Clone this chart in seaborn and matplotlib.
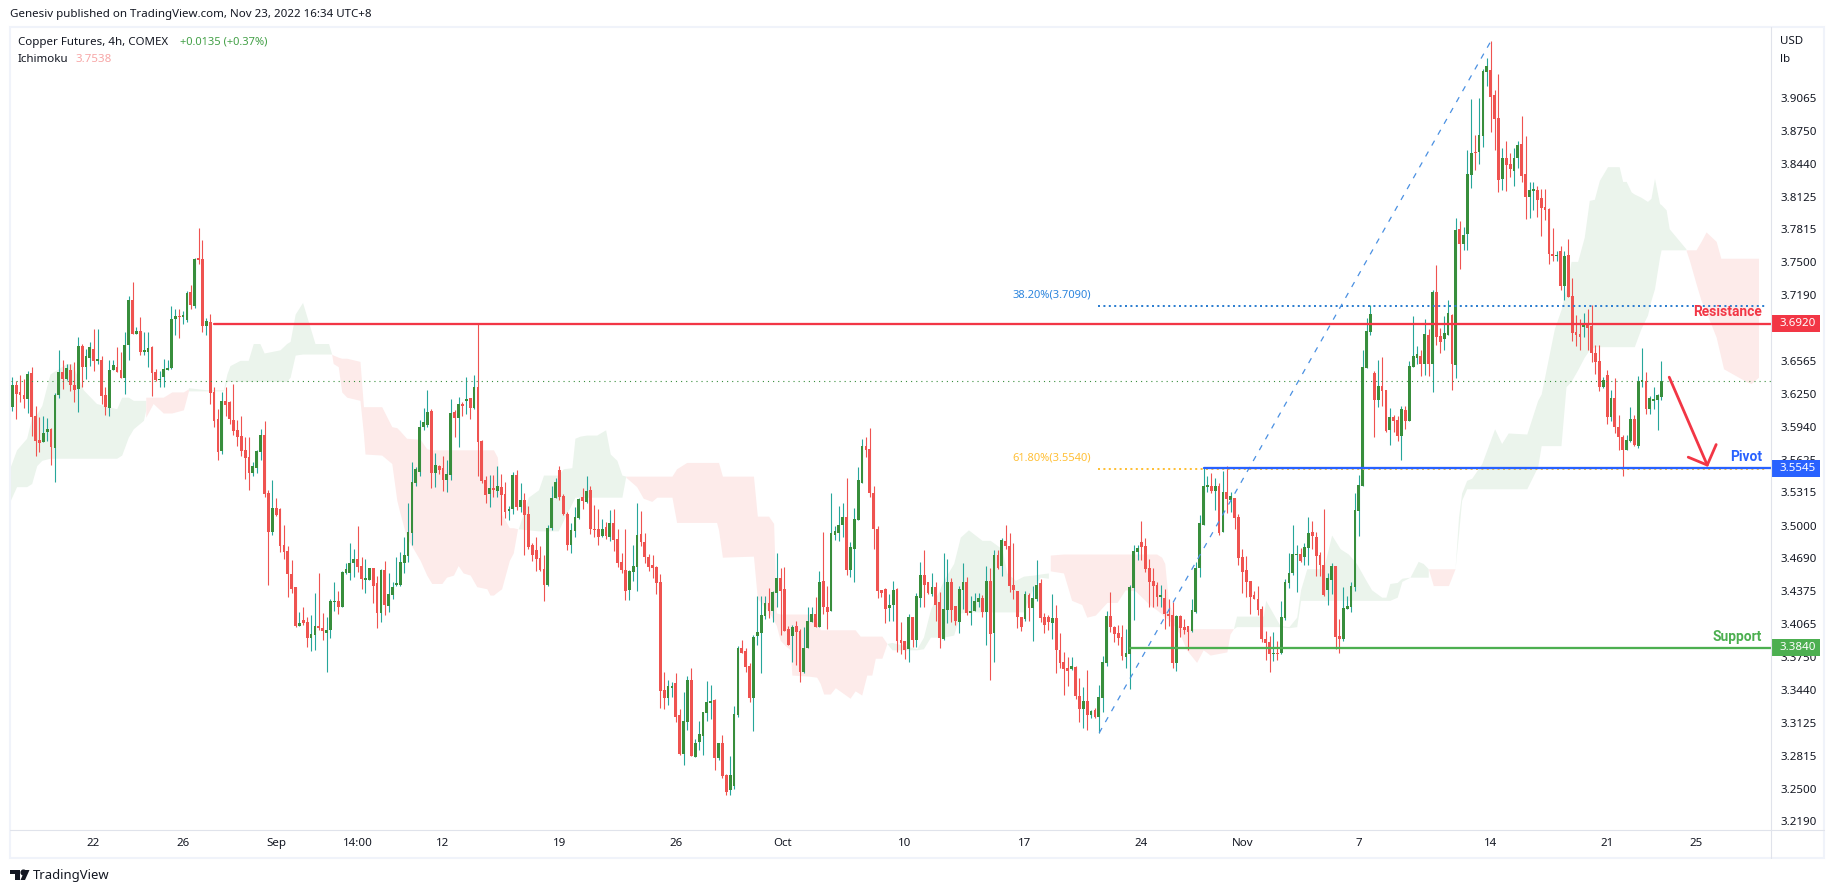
import numpy as np
import pandas as pd
import matplotlib
matplotlib.use("Agg")
import matplotlib.pyplot as plt
from matplotlib.patches import Rectangle, Polygon
import seaborn as sns

directions = ("GRRRGRRRGG" "RGGRGRRGRG" "GRGRRGGRRG" "GRGRGGRRGG" "GGGRGGRGRR" "GRRRGRRRRR"
              "RRGGGRRGRR" "RRRRGRRGGR" "RGGGRGGGGR" "RGGRRGRGGG" "GGGGGGGGRG" "RRGGRGRGRG"
              "RRRGRGRRGG" "RGRRRRRRGG" "GRRRGGGRGR" "RRGRGRRRRG" "GGRRRRRRRG" "GRRGGRGGGG"
              "GRGRRGGGRR" "RGGGGRGGRR" "RGRRGGGRGR" "RGGGGRGGGG" "RRRRRRGGRR" "RGRGGRRGRR"
              "GGRRGGRGGG" "RGRGRGRRRR" "RGRGGRRRGR" "RRRGRRGRGR" "GGGRRRRGGG" "GRRRRRGRRR"
              "GRRRGGGGGR" "GRGRGRRRRR" "RRRRRGRGGG" "GGRGGRRRRG" "GRRGGGGGGG" "GRGRRGRRGR"
              "GGGRGRGRRG" "GRGRGGGRGG" "GRRRGRRGGR" "RGGRRRRRGR" "GRRRRGRRRR" "GRGRRRGGRG"
              "GRGGGG")

body_top = [
3.634,3.634,3.627,3.624,3.644,3.645,3.604,3.581,3.588,3.592,
3.592,3.624,3.646,3.646,3.650,3.648,3.634,3.671,3.671,3.661,
3.670,3.668,3.658,3.657,3.624,3.648,3.653,3.651,3.648,3.672,
3.714,3.714,3.685,3.685,3.667,3.669,3.670,3.646,3.639,3.649,
3.650,3.696,3.699,3.699,3.700,3.721,3.722,3.753,3.754,3.753,
3.694,3.693,3.627,3.601,3.618,3.618,3.617,3.600,3.591,3.585,
3.572,3.565,3.557,3.571,3.586,3.586,3.531,3.517,3.517,3.516,
3.482,3.476,3.454,3.442,3.407,3.410,3.408,3.397,3.405,3.405,
3.403,3.401,3.428,3.428,3.428,3.456,3.459,3.464,3.468,3.468,
3.462,3.450,3.460,3.460,3.445,3.458,3.458,3.435,3.442,3.445,
3.465,3.472,3.494,3.541,3.554,3.594,3.598,3.608,3.609,3.558,
3.557,3.555,3.549,3.607,3.608,3.616,3.616,3.620,3.621,3.632,
3.632,3.580,3.543,3.536,3.536,3.538,3.537,3.530,3.516,3.548,
3.548,3.524,3.524,3.511,3.482,3.477,3.469,3.459,3.498,3.526,
3.541,3.553,3.528,3.511,3.496,3.508,3.525,3.527,3.533,3.534,
3.497,3.497,3.497,3.499,3.502,3.502,3.487,3.465,3.458,3.457,
3.462,3.491,3.492,3.484,3.470,3.463,3.461,3.446,3.344,3.348,
3.348,3.350,3.320,3.314,3.353,3.353,3.293,3.302,3.323,3.332,
3.333,3.334,3.293,3.293,3.263,3.263,3.321,3.384,3.384,3.381,
3.367,3.394,3.399,3.415,3.426,3.426,3.437,3.450,3.450,3.440,
3.402,3.404,3.405,3.400,3.384,3.409,3.416,3.416,3.446,3.447,
3.423,3.493,3.495,3.501,3.508,3.508,3.480,3.506,3.543,3.576,
3.576,3.573,3.531,3.497,3.439,3.440,3.425,3.439,3.440,3.391,
3.390,3.413,3.413,3.433,3.453,3.453,3.446,3.442,3.442,3.427,
3.421,3.446,3.446,3.424,3.440,3.446,3.446,3.419,3.428,3.431,
3.431,3.447,3.447,3.472,3.472,3.486,3.485,3.481,3.444,3.438,
3.413,3.435,3.434,3.431,3.444,3.445,3.413,3.413,3.412,3.412,
3.382,3.370,3.365,3.367,3.366,3.338,3.333,3.333,3.324,3.325,
3.337,3.370,3.414,3.414,3.404,3.398,3.394,3.379,3.442,3.476,
3.479,3.484,3.481,3.460,3.447,3.444,3.434,3.431,3.416,3.415,
3.414,3.414,3.404,3.405,3.420,3.460,3.502,3.538,3.539,3.538,
3.538,3.538,3.532,3.532,3.528,3.526,3.508,3.470,3.458,3.447,
3.434,3.430,3.421,3.392,3.389,3.379,3.379,3.413,3.446,3.455,
3.473,3.473,3.473,3.480,3.493,3.494,3.489,3.472,3.463,3.450,
3.462,3.462,3.395,3.422,3.424,3.443,3.515,3.539,3.651,3.685,
3.701,3.645,3.633,3.633,3.629,3.603,3.603,3.600,3.611,3.610,
3.652,3.661,3.663,3.661,3.682,3.681,3.722,3.722,3.680,3.683,
3.702,3.700,3.781,3.782,3.776,3.834,3.854,3.855,3.871,3.932,
3.937,3.933,3.909,3.887,3.849,3.849,3.844,3.849,3.862,3.863,
3.834,3.819,3.820,3.819,3.811,3.803,3.801,3.758,3.757,3.761,
3.756,3.757,3.718,3.684,3.682,3.692,3.691,3.690,3.664,3.656,
3.638,3.643,3.621,3.621,3.594,3.584,3.581,3.601,3.601,3.637,
3.638,3.637,3.621,3.620,3.624,3.637]

body_bot = [
3.613,3.625,3.624,3.620,3.620,3.603,3.580,3.578,3.579,3.589,
3.575,3.574,3.624,3.639,3.639,3.634,3.629,3.630,3.651,3.651,
3.659,3.656,3.656,3.623,3.613,3.612,3.648,3.646,3.640,3.640,
3.672,3.682,3.682,3.665,3.665,3.665,3.645,3.638,3.638,3.641,
3.648,3.650,3.696,3.698,3.698,3.695,3.710,3.709,3.752,3.690,
3.690,3.626,3.599,3.570,3.571,3.615,3.601,3.590,3.584,3.571,
3.564,3.550,3.550,3.555,3.570,3.530,3.494,3.494,3.510,3.481,
3.475,3.454,3.440,3.405,3.405,3.407,3.393,3.393,3.396,3.403,
3.400,3.398,3.401,3.427,3.423,3.423,3.455,3.455,3.464,3.461,
3.449,3.448,3.448,3.443,3.417,3.417,3.425,3.424,3.434,3.444,
3.444,3.464,3.471,3.493,3.540,3.551,3.594,3.596,3.550,3.550,
3.553,3.543,3.543,3.548,3.602,3.602,3.614,3.618,3.612,3.612,
3.579,3.542,3.529,3.530,3.534,3.533,3.529,3.513,3.514,3.516,
3.518,3.518,3.510,3.480,3.472,3.468,3.458,3.444,3.444,3.498,
3.526,3.527,3.511,3.482,3.482,3.495,3.507,3.523,3.522,3.497,
3.496,3.489,3.490,3.490,3.489,3.486,3.464,3.458,3.438,3.439,
3.456,3.461,3.484,3.470,3.461,3.460,3.445,3.343,3.336,3.336,
3.346,3.318,3.283,3.283,3.313,3.281,3.280,3.294,3.300,3.322,
3.331,3.279,3.279,3.262,3.247,3.249,3.253,3.320,3.379,3.366,
3.336,3.336,3.395,3.398,3.414,3.419,3.419,3.436,3.438,3.400,
3.387,3.395,3.399,3.361,3.361,3.384,3.408,3.404,3.404,3.423,
3.418,3.419,3.491,3.493,3.501,3.458,3.458,3.478,3.505,3.540,
3.572,3.531,3.497,3.438,3.436,3.421,3.422,3.425,3.390,3.388,
3.382,3.383,3.391,3.391,3.431,3.444,3.436,3.435,3.425,3.393,
3.392,3.420,3.420,3.409,3.408,3.439,3.417,3.417,3.419,3.427,
3.418,3.418,3.397,3.398,3.460,3.462,3.481,3.443,3.439,3.413,
3.404,3.411,3.422,3.422,3.430,3.412,3.406,3.408,3.407,3.382,
3.369,3.364,3.362,3.364,3.338,3.326,3.326,3.320,3.320,3.318,
3.318,3.336,3.369,3.404,3.397,3.393,3.376,3.375,3.378,3.441,
3.475,3.480,3.459,3.446,3.443,3.432,3.432,3.416,3.414,3.369,
3.369,3.403,3.401,3.399,3.400,3.418,3.460,3.501,3.537,3.533,
3.533,3.493,3.494,3.525,3.524,3.507,3.469,3.456,3.446,3.432,
3.430,3.420,3.392,3.388,3.378,3.378,3.378,3.379,3.412,3.445,
3.455,3.472,3.466,3.470,3.479,3.490,3.471,3.463,3.434,3.439,
3.448,3.394,3.392,3.392,3.421,3.423,3.442,3.514,3.538,3.650,
3.684,3.619,3.619,3.628,3.590,3.591,3.599,3.585,3.585,3.599,
3.599,3.651,3.659,3.654,3.654,3.654,3.654,3.679,3.674,3.677,
3.681,3.654,3.653,3.768,3.768,3.777,3.833,3.854,3.855,3.870,
3.931,3.907,3.886,3.828,3.829,3.843,3.839,3.837,3.849,3.832,
3.812,3.812,3.818,3.809,3.802,3.800,3.758,3.756,3.756,3.728,
3.728,3.717,3.683,3.681,3.679,3.689,3.688,3.664,3.655,3.632,
3.632,3.603,3.603,3.594,3.584,3.572,3.572,3.580,3.577,3.576,
3.636,3.611,3.611,3.618,3.619,3.622]

wick_high = [
3.641,3.637,3.643,3.639,3.647,3.651,3.614,3.603,3.604,3.602,
3.593,3.626,3.667,3.657,3.654,3.654,3.655,3.679,3.673,3.668,
3.674,3.687,3.687,3.661,3.632,3.657,3.657,3.670,3.665,3.684,
3.718,3.731,3.689,3.698,3.684,3.684,3.671,3.649,3.647,3.658,
3.657,3.709,3.706,3.706,3.704,3.723,3.729,3.754,3.783,3.771,
3.697,3.701,3.632,3.611,3.627,3.632,3.618,3.635,3.600,3.604,
3.584,3.584,3.560,3.572,3.592,3.599,3.534,3.543,3.526,3.517,
3.501,3.481,3.467,3.442,3.418,3.423,3.413,3.415,3.436,3.455,
3.417,3.413,3.430,3.446,3.438,3.457,3.464,3.483,3.478,3.500,
3.470,3.468,3.460,3.460,3.452,3.459,3.466,3.455,3.446,3.470,
3.475,3.489,3.521,3.560,3.556,3.600,3.612,3.629,3.611,3.569,
3.558,3.566,3.562,3.620,3.610,3.622,3.617,3.641,3.621,3.643,
3.692,3.581,3.547,3.548,3.548,3.557,3.549,3.541,3.519,3.551,
3.553,3.540,3.531,3.519,3.483,3.489,3.481,3.472,3.501,3.538,
3.545,3.557,3.530,3.513,3.502,3.518,3.526,3.536,3.547,3.538,
3.520,3.516,3.506,3.503,3.515,3.516,3.497,3.474,3.497,3.458,
3.482,3.521,3.514,3.493,3.473,3.472,3.462,3.454,3.361,3.353,
3.351,3.360,3.326,3.342,3.357,3.365,3.297,3.314,3.323,3.352,
3.349,3.335,3.293,3.301,3.264,3.281,3.329,3.386,3.391,3.384,
3.369,3.396,3.433,3.433,3.433,3.441,3.438,3.474,3.460,3.461,
3.405,3.406,3.409,3.402,3.404,3.423,3.423,3.432,3.457,3.494,
3.443,3.531,3.500,3.519,3.521,3.545,3.484,3.517,3.556,3.582,
3.584,3.593,3.538,3.500,3.439,3.441,3.435,3.447,3.441,3.408,
3.390,3.416,3.413,3.436,3.465,3.477,3.446,3.455,3.446,3.437,
3.474,3.468,3.450,3.424,3.443,3.464,3.451,3.433,3.436,3.436,
3.434,3.462,3.460,3.477,3.477,3.488,3.501,3.493,3.483,3.438,
3.413,3.438,3.436,3.443,3.467,3.449,3.417,3.415,3.435,3.425,
3.398,3.380,3.375,3.375,3.367,3.355,3.347,3.363,3.325,3.327,
3.349,3.376,3.419,3.437,3.405,3.406,3.406,3.402,3.444,3.482,
3.482,3.504,3.488,3.468,3.460,3.446,3.444,3.440,3.430,3.427,
3.415,3.415,3.411,3.405,3.430,3.465,3.510,3.555,3.547,3.550,
3.545,3.540,3.552,3.557,3.532,3.526,3.511,3.478,3.471,3.447,
3.438,3.443,3.424,3.400,3.395,3.399,3.390,3.428,3.449,3.474,
3.501,3.482,3.479,3.483,3.508,3.504,3.494,3.475,3.516,3.455,
3.464,3.462,3.411,3.442,3.433,3.446,3.531,3.548,3.667,3.697,
3.710,3.647,3.657,3.660,3.629,3.612,3.605,3.604,3.614,3.614,
3.656,3.699,3.671,3.667,3.696,3.687,3.724,3.748,3.688,3.699,
3.714,3.701,3.792,3.789,3.784,3.857,3.905,3.871,3.906,3.934,
3.944,3.960,3.914,3.929,3.859,3.865,3.854,3.859,3.865,3.889,
3.870,3.826,3.826,3.823,3.820,3.820,3.802,3.783,3.761,3.766,
3.761,3.772,3.735,3.700,3.696,3.702,3.706,3.710,3.672,3.672,
3.641,3.648,3.629,3.640,3.605,3.586,3.586,3.613,3.605,3.642,
3.669,3.646,3.623,3.632,3.625,3.656]

wick_low = [
3.609,3.601,3.617,3.612,3.607,3.585,3.566,3.570,3.579,3.580,
3.558,3.541,3.621,3.630,3.638,3.628,3.617,3.608,3.632,3.639,
3.652,3.647,3.654,3.616,3.605,3.604,3.648,3.646,3.640,3.625,
3.657,3.682,3.682,3.662,3.662,3.651,3.623,3.637,3.632,3.632,
3.648,3.649,3.681,3.678,3.692,3.693,3.706,3.707,3.749,3.684,
3.681,3.616,3.594,3.562,3.568,3.604,3.597,3.586,3.576,3.566,
3.544,3.534,3.547,3.550,3.562,3.527,3.444,3.491,3.509,3.475,
3.468,3.432,3.436,3.404,3.405,3.406,3.385,3.381,3.382,3.401,
3.391,3.361,3.393,3.419,3.416,3.423,3.454,3.448,3.451,3.456,
3.440,3.436,3.448,3.426,3.403,3.408,3.415,3.418,3.430,3.443,
3.443,3.455,3.465,3.482,3.538,3.547,3.591,3.594,3.536,3.537,
3.549,3.533,3.532,3.543,3.584,3.575,3.604,3.606,3.601,3.611,
3.547,3.540,3.521,3.518,3.527,3.527,3.501,3.507,3.505,3.511,
3.515,3.513,3.472,3.478,3.466,3.457,3.457,3.428,3.443,3.496,
3.526,3.524,3.510,3.477,3.474,3.489,3.506,3.516,3.521,3.492,
3.489,3.482,3.489,3.487,3.485,3.476,3.461,3.455,3.429,3.429,
3.447,3.438,3.481,3.464,3.457,3.450,3.435,3.327,3.326,3.330,
3.337,3.313,3.282,3.273,3.306,3.281,3.280,3.287,3.282,3.314,
3.316,3.268,3.277,3.260,3.244,3.244,3.250,3.318,3.379,3.361,
3.332,3.305,3.387,3.360,3.411,3.412,3.408,3.423,3.396,3.400,
3.387,3.370,3.368,3.351,3.360,3.384,3.408,3.404,3.404,3.416,
3.402,3.419,3.486,3.485,3.489,3.453,3.451,3.446,3.505,3.540,
3.565,3.527,3.478,3.431,3.432,3.407,3.409,3.409,3.380,3.378,
3.373,3.370,3.385,3.385,3.423,3.423,3.435,3.433,3.409,3.384,
3.391,3.407,3.408,3.406,3.398,3.421,3.415,3.406,3.419,3.423,
3.413,3.387,3.353,3.370,3.459,3.452,3.478,3.437,3.430,3.403,
3.400,3.409,3.409,3.390,3.428,3.408,3.398,3.401,3.392,3.360,
3.365,3.339,3.348,3.363,3.335,3.313,3.308,3.306,3.317,3.317,
3.303,3.323,3.367,3.399,3.389,3.387,3.372,3.365,3.345,3.410,
3.467,3.467,3.456,3.423,3.423,3.424,3.423,3.402,3.405,3.365,
3.362,3.394,3.397,3.382,3.399,3.417,3.451,3.501,3.532,3.531,
3.515,3.491,3.494,3.512,3.513,3.497,3.463,3.436,3.432,3.416,
3.430,3.415,3.389,3.372,3.361,3.371,3.372,3.378,3.410,3.441,
3.453,3.437,3.465,3.463,3.463,3.478,3.452,3.452,3.433,3.425,
3.435,3.383,3.379,3.390,3.421,3.418,3.438,3.490,3.538,3.650,
3.681,3.584,3.613,3.614,3.589,3.577,3.589,3.580,3.562,3.592,
3.599,3.651,3.654,3.642,3.643,3.642,3.627,3.672,3.664,3.667,
3.681,3.629,3.640,3.744,3.762,3.762,3.821,3.838,3.844,3.860,
3.918,3.874,3.857,3.817,3.819,3.818,3.831,3.823,3.840,3.826,
3.791,3.792,3.800,3.793,3.775,3.790,3.749,3.751,3.751,3.724,
3.714,3.717,3.675,3.671,3.667,3.679,3.667,3.655,3.644,3.628,
3.631,3.597,3.599,3.588,3.572,3.547,3.572,3.579,3.576,3.574,
3.632,3.606,3.606,3.611,3.591,3.619]

# Ichimoku cloud, one stretch per colour change: bar index, upper edge, lower edge
cloud_green_1 = ([-0.5,1.1,3.7,5.0,6.3,7.6,9.7,14,15.3,18.3,21.7,26.9,28.2,29.9,31.2,33.8,34.4],
                 [3.556,3.572,3.583,3.603,3.606,3.614,3.644,3.654,3.654,3.629,3.616,3.611,3.622,3.622,3.619,3.619,3.619],
                 [3.524,3.537,3.537,3.540,3.557,3.562,3.564,3.564,3.564,3.564,3.564,3.564,3.567,3.584,3.592,3.600,3.610])
cloud_red_1 = ([34.4,36.3,38.9,41.1,44.1,45.4],
               [3.622,3.622,3.622,3.627,3.627,3.630],
               [3.603,3.616,3.607,3.607,3.610,3.628])
cloud_green_2 = ([45.4,50.1,54.4,55.3,56.1,58.7,60.8,62.1,63.8,64.9,69,70.7,71.6,72.9,74.8,78,81.5,82.3],
                 [3.631,3.629,3.629,3.644,3.652,3.657,3.657,3.673,3.673,3.664,3.667,3.673,3.675,3.701,3.712,3.673,3.673,3.663],
                 [3.628,3.628,3.628,3.637,3.637,3.637,3.637,3.637,3.637,3.637,3.637,3.637,3.641,3.662,3.663,3.663,3.663,3.663])
cloud_red_2 = ([82.3,82.7,84,84.9,86.2,89.6,90.5,90.9,95.2,97.8,99.1,99.9,101.6,105.1,106.8,108.1,110.7,111.9,113.7,114.9,116.2,118,119.7,122.3,123.1,124,125,126.1,128.1,129.1,130.2],
               [3.663,3.662,3.660,3.659,3.659,3.656,3.613,3.613,3.613,3.594,3.593,3.590,3.583,3.582,3.573,3.572,3.572,3.572,3.572,3.572,3.572,3.572,3.572,3.572,3.572,3.572,3.565,3.511,3.498,3.498,3.497],
               [3.663,3.654,3.651,3.627,3.622,3.619,3.587,3.568,3.567,3.559,3.524,3.512,3.489,3.467,3.453,3.445,3.445,3.451,3.453,3.462,3.455,3.453,3.442,3.440,3.434,3.434,3.437,3.440,3.467,3.474,3.497])
cloud_green_3 = ([130.4,133,135.6,136.9,140.7,142,144.2,145,146.3,148,150.6,152.9,154.1,155.8,157.1,158.1],
                 [3.497,3.527,3.534,3.548,3.548,3.554,3.555,3.583,3.585,3.586,3.586,3.591,3.568,3.562,3.548,3.547],
                 [3.497,3.496,3.495,3.495,3.495,3.505,3.521,3.527,3.527,3.527,3.527,3.527,3.527,3.527,3.527,3.547])
cloud_red_3 = ([158.1,160.9,162.6,164.8,166.1,170,171.2,173.8,181.5,182,183,191,192,194.9,196.2,196.9,197.9,199.2,200.5,200.9,205.2,207.3,208.2,209.1,210.8,212.1,215.9,217.2,218.5,218.9,220.2,221.5,222.4,224.1,225.4],
               [3.547,3.547,3.547,3.547,3.547,3.547,3.554,3.560,3.560,3.560,3.547,3.547,3.509,3.509,3.502,3.417,3.416,3.416,3.416,3.416,3.416,3.409,3.401,3.401,3.401,3.401,3.401,3.401,3.395,3.395,3.395,3.395,3.395,3.395,3.388],
               [3.546,3.537,3.526,3.523,3.527,3.527,3.503,3.503,3.503,3.496,3.470,3.471,3.431,3.418,3.410,3.405,3.391,3.386,3.382,3.358,3.357,3.356,3.350,3.340,3.340,3.346,3.336,3.343,3.340,3.339,3.358,3.358,3.374,3.374,3.388])
cloud_green_4 = ([225.4,226.7,233.1,234.8,236.6,240,242.6,244.3,246.4,249.9,252,255,256.3,258.5,260.6,263.2,264.9,267],
                 [3.388,3.389,3.383,3.394,3.420,3.448,3.464,3.489,3.496,3.486,3.486,3.478,3.455,3.448,3.452,3.453,3.454,3.455],
                 [3.388,3.382,3.382,3.383,3.394,3.394,3.396,3.417,3.418,3.418,3.418,3.418,3.418,3.418,3.418,3.442,3.451,3.450])
cloud_red_4 = ([267.5,270.9,273,275.6,276.9,279.1,282.1,284.7,286.8,289.4,293.6,294.9,296.2,297,297.9,299.6,300.9,302.6,305.2,306.9,308.7,313,313.8,314.7],
               [3.472,3.473,3.473,3.473,3.473,3.473,3.473,3.473,3.473,3.473,3.473,3.473,3.470,3.464,3.429,3.410,3.402,3.402,3.402,3.402,3.402,3.402,3.402,3.402],
               [3.457,3.455,3.429,3.425,3.413,3.415,3.427,3.427,3.439,3.438,3.423,3.420,3.416,3.413,3.411,3.404,3.397,3.382,3.370,3.382,3.377,3.380,3.397,3.402])
cloud_green_5 = ([314.7,315.5,322.4,323,325,326.7,329,331,332,333.6,337.9,340,342.2,344.3,346.4,349,350.3,352.9,354,355,356.9,358.1,360.2,362.3,363.6,364.9],
                 [3.402,3.414,3.414,3.429,3.416,3.405,3.404,3.413,3.439,3.459,3.459,3.491,3.478,3.473,3.464,3.447,3.439,3.432,3.432,3.445,3.446,3.450,3.451,3.466,3.464,3.459],
                 [3.402,3.404,3.404,3.404,3.404,3.404,3.403,3.404,3.429,3.429,3.429,3.429,3.429,3.429,3.429,3.429,3.429,3.429,3.429,3.429,3.432,3.447,3.451,3.451,3.451,3.451])
cloud_red_5 = ([365,366.2,370.1,371.8],
               [3.459,3.459,3.459,3.459],
               [3.458,3.443,3.443,3.459])
cloud_green_6 = ([371.8,372.7,373.5,374.8,376.1,378.7,382,383.8,385.5,390.3,393.1,394,395.7,397.4,399.1,400.4,401.7,403.4,405.1,406.4,407.7,409,411.1,414.1,415,415.9,417.2,418,419.7,421.4,422.3,423.2,424.5,424.9,426.2,427,431.3],
                 [3.459,3.508,3.531,3.543,3.545,3.559,3.592,3.578,3.588,3.587,3.619,3.625,3.656,3.687,3.705,3.725,3.751,3.751,3.774,3.809,3.810,3.828,3.841,3.841,3.827,3.827,3.817,3.815,3.812,3.808,3.811,3.830,3.806,3.805,3.800,3.782,3.763],
                 [3.459,3.492,3.524,3.535,3.535,3.535,3.535,3.535,3.535,3.535,3.556,3.576,3.576,3.576,3.576,3.632,3.637,3.648,3.660,3.667,3.670,3.670,3.670,3.670,3.670,3.670,3.670,3.670,3.687,3.700,3.714,3.725,3.755,3.762,3.762,3.762,3.762])
cloud_red_6 = ([431.3,432.2,433.9,435.2,436.5,439.1,440.3,441,443.4,446.8,448.1,450],
               [3.762,3.762,3.762,3.770,3.779,3.770,3.754,3.754,3.754,3.754,3.754,3.754],
               [3.762,3.752,3.730,3.714,3.703,3.679,3.660,3.649,3.644,3.637,3.635,3.641])

green_clouds = [cloud_green_1, cloud_green_2, cloud_green_3, cloud_green_4, cloud_green_5, cloud_green_6]
red_clouds = [cloud_red_1, cloud_red_2, cloud_red_3, cloud_red_4, cloud_red_5, cloud_red_6]

resistance, pivot, support = 3.692, 3.5545, 3.384
fib_382, fib_618 = 3.709, 3.554
last_close = 3.637
leg_x, leg_y = [280.1, 381], [3.303, 3.960]
arrow_x, arrow_y = [427, 436.8], [3.641, 3.5575]
arrow_head_x, arrow_head_y = [431.9, 436.8, 439.1], [3.565, 3.5575, 3.577]

price_ticks = [3.9065,3.8750,3.8440,3.8125,3.7815,3.7500,3.7190,3.6565,3.6250,3.5940,3.5625,
               3.5315,3.5000,3.4690,3.4375,3.4065,3.3750,3.3440,3.3125,3.2815,3.2500,3.2190]
time_ticks = [20.8,44,68,89,111,141,171,198.6,230,261,291,317,347,381,411,434]
time_labels = ["22","26","Sep","14:00","12","19","26","Oct","10","17","24","Nov","7","14","21","25"]

W, H = 1834, 893
BODY_UP, WICK_UP, RED = "#388E3C", "#26A69A", "#EF5350"
INK = "#131722"
sns.set_theme(style="white")
plt.rcParams["font.family"] = ["Noto Sans", "DejaVu Sans"]
BOLD = ["Roboto", "DejaVu Sans"]

fig = plt.figure(figsize=(W / 100, H / 100), dpi=100, facecolor="white")
def fx(x): return x / W
def fy(y): return 1 - y / H
ax = fig.add_axes([fx(10.5), fy(830), 1760 / W, 803 / H])
ax.set_xlim(-0.46, 453.1)
ax.set_ylim(3.2108, 3.9737)
ax.set_facecolor("white")
for s in ax.spines.values():
    s.set_visible(False)

for seg in green_clouds:
    ax.fill_between(seg[0], seg[1], seg[2], color="#EBF4EC", linewidth=0, zorder=1)
for seg in red_clouds:
    ax.fill_between(seg[0], seg[1], seg[2], color="#FDEBEA", linewidth=0, zorder=1)

candles = pd.DataFrame({"idx": np.arange(len(body_top)), "top": body_top, "bot": body_bot,
                        "high": wick_high, "low": wick_low, "dir": list(directions)})
is_up = candles["dir"] == "G"
ax.vlines(candles["idx"], candles["low"], candles["high"],
          colors=np.where(is_up, WICK_UP, RED).tolist(), linewidth=0.8, zorder=3)
ax.bar(candles["idx"], candles["top"] - candles["bot"], bottom=candles["bot"], width=0.72,
       color=np.where(is_up, BODY_UP, RED).tolist(), linewidth=0, zorder=4)

xmax = 453.1
def level(x0, x1, y, **kw):
    sns.lineplot(x=[x0, x1], y=[y, y], ax=ax, legend=False, errorbar=None, **kw)

level(-0.46, xmax, last_close, color="#388E3C", linewidth=0.8, linestyle=(0, (1, 3.6)), zorder=5)
level(279.8, 452.2, fib_382, color="#2E7FD0", linewidth=1.44, linestyle=(0, (1, 1.7)), zorder=5)
level(279.8, 452.2, fib_618, color="#FFC038", linewidth=1.44, linestyle=(0, (1, 1.7)), zorder=5)
sns.lineplot(x=leg_x, y=leg_y, ax=ax, color="#4A90E2", linewidth=0.9, linestyle=(0, (4.5, 5.5)),
             legend=False, errorbar=None, zorder=5)
level(52, xmax, resistance, color="#F23645", linewidth=1.65, zorder=6)
level(307.1, xmax, pivot, color="#2962FF", linewidth=1.65, zorder=6)
level(288.1, xmax, support, color="#4CAF50", linewidth=1.65, zorder=6)
for xs, ys in ((arrow_x, arrow_y), (arrow_head_x, arrow_head_y)):
    sns.lineplot(x=xs, y=ys, ax=ax, color="#F23645", linewidth=2.0, sort=False, legend=False,
                 errorbar=None, zorder=7)

TICK = 8.3
ax.set_xlabel(""); ax.set_ylabel("")
ax.yaxis.tick_right()
ax.set_yticks(price_ticks, [f"{v:.4f}" for v in price_ticks])
ax.set_xticks(time_ticks, time_labels)
ax.tick_params(axis="y", length=0, pad=7, labelsize=TICK, labelcolor=INK)
ax.tick_params(axis="x", length=0, pad=5.5, labelsize=TICK, labelcolor=INK)
ax.grid(False)

# price tags on the scale
side = ax.get_yaxis_transform()
for value, colour, txt in ((resistance, "#F23645", "3.6920"), (pivot, "#2962FF", "3.5545"), (support, "#4CAF50", "3.3840")):
    ax.add_patch(Rectangle((1.0, value - 0.008), 50 / 1760, 0.016, transform=side, facecolor=colour,
                           edgecolor="none", clip_on=False, zorder=20))
    ax.text(1 + 9.5 / 1760, value - 0.0002, txt, transform=side, color="white", fontsize=TICK,
            ha="left", va="center", zorder=21, clip_on=False)

# chart annotations, right aligned against the scale
anno_x = 1 - 8.5 / 1760
ax.text(anno_x, resistance + 0.0105, "Resistance", transform=side, color="#F23645", fontsize=9.9,
        fontweight="bold", family=BOLD, ha="right", va="center", zorder=8)
ax.text(anno_x, pivot + 0.0105, "Pivot", transform=side, color="#2962FF", fontsize=9.9,
        fontweight="bold", family=BOLD, ha="right", va="center", zorder=8)
ax.text(anno_x, support + 0.0105, "Support", transform=side, color="#4CAF50", fontsize=9.9,
        fontweight="bold", family=BOLD, ha="right", va="center", zorder=8)
ax.text(278, fib_382 + 0.0105, "38.20%(3.7090)", color="#2E86DE", fontsize=8.0, ha="right", va="center", zorder=8)
ax.text(278, fib_618 + 0.0105, "61.80%(3.5540)", color="#FFC038", fontsize=8.0, ha="right", va="center", zorder=8)

# frame of the chart
fig.add_artist(Rectangle((fx(10), fy(858)), 1814 / W, 831 / H, transform=fig.transFigure, fill=False,
                         edgecolor="#F0F3FA", linewidth=1.5))
fig.add_artist(plt.Line2D([fx(1770.5)] * 2, [fy(27), fy(858)], color="#E0E3EB", linewidth=0.8))
fig.add_artist(plt.Line2D([fx(10), fx(1824)], [fy(830)] * 2, color="#E0E3EB", linewidth=0.8))

# header, legend, footer
fig.text(fx(10), fy(15), "Genesiv published on TradingView.com, Nov 23, 2022 16:34 UTC+8", color=INK,
         fontsize=8.3, va="center", ha="left")
fig.text(fx(18), fy(42), "Copper Futures, 4h, COMEX", color=INK, fontsize=8.3, va="center", ha="left")
fig.text(fx(180), fy(42), "+0.0135 (+0.37%)", color="#43A047", fontsize=8.0, va="center", ha="left")
fig.text(fx(18), fy(59), "Ichimoku", color=INK, fontsize=8.3, va="center", ha="left")
fig.text(fx(75), fy(59), "3.7538", color="#F7A6A6", fontsize=8.3, va="center", ha="left")
fig.text(fx(1780), fy(41), "USD", color=INK, fontsize=8.3, va="center", ha="left")
fig.text(fx(1780), fy(60), "lb", color=INK, fontsize=8.3, va="center", ha="left")
fig.text(fx(33), fy(876), "TradingView", color=INK, fontsize=9.4, va="center", ha="left")
logo_t = [(10, 870), (20, 870), (20, 880), (15, 880), (15, 874), (10, 874)]
logo_s = [(25, 870), (29.5, 870), (25, 880), (20.5, 880)]
for pts in (logo_t, logo_s):
    fig.add_artist(Polygon([(fx(a), fy(b)) for a, b in pts], closed=True, transform=fig.transFigure,
                           facecolor=INK, edgecolor="none"))
fig.add_artist(plt.Line2D([fx(23)], [fy(872.2)], marker="o", markersize=3.4, color=INK, linestyle="none"))

fig.savefig("out.png", dpi=100, facecolor="white")
